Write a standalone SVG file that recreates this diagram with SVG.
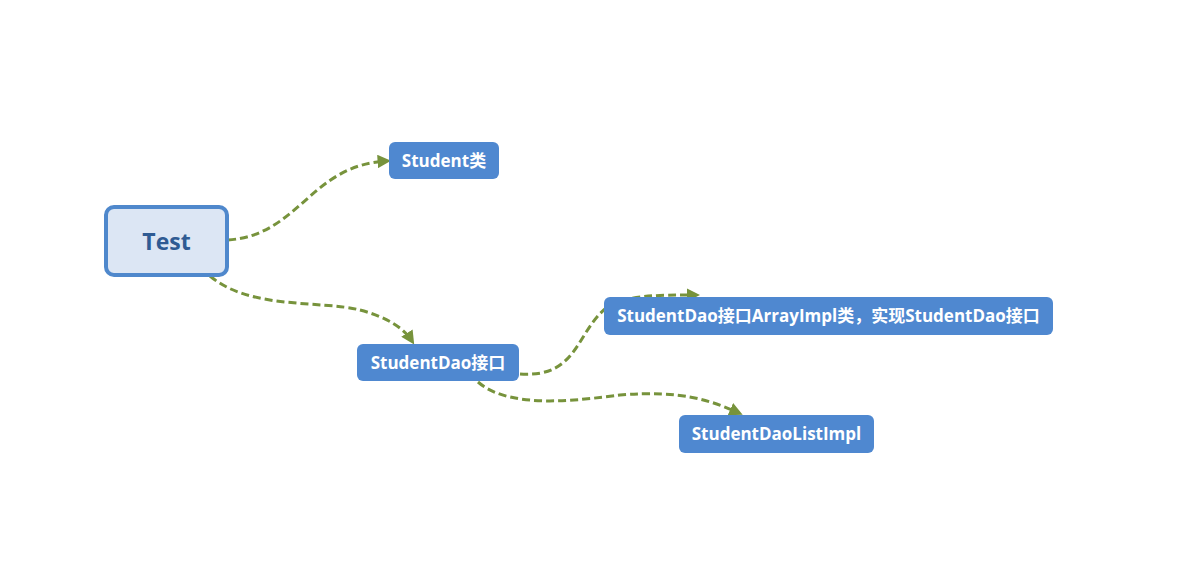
<svg xmlns="http://www.w3.org/2000/svg" width="1185" height="565" viewBox="0 0 1185 565">
<style>
.node{fill:#4f88d0;}
.lbl{font-family:"Open Sans","Noto Sans","Noto Sans CJK SC",sans-serif;font-weight:bold;font-size:17px;fill:#fff;text-anchor:middle;dominant-baseline:central;}
.edge{fill:none;stroke:#77933c;stroke-width:3;stroke-dasharray:8,4;marker-end:url(#arr);}
</style>
<defs>
<marker id="arr" viewBox="0 0 10 10" refX="7" refY="5" markerWidth="4.5" markerHeight="4.5" orient="auto" markerUnits="strokeWidth">
<path d="M0,0 L10,5 L0,10 z" fill="#77933c"/>
</marker>
</defs>
<rect width="1185" height="565" fill="#fff"/>
<g id="connectors">
<path class="edge" d="M228,240 C300,235 310,165 387,161"/>
<path class="edge" d="M210,276 C250,310 320,300 360,310 C390,318 405,330 412,341"/>
<path class="edge" d="M520,374 C580,378 575,330 610,305 C630,295 660,295 696,295"/>
<path class="edge" d="M478,382 C510,410 580,400 620,395 C680,390 710,400 739,413"/>
</g>
<g id="test">
<rect x="106" y="207" width="121" height="68" rx="8" fill="#dce6f4" stroke="#4f88cc" stroke-width="4"/>
<text x="166.5" y="241" font-family="'Open Sans','Noto Sans',sans-serif" font-weight="bold" font-size="23" fill="#2f5b93" text-anchor="middle" dominant-baseline="central">Test</text>
</g>
<g id="student">
<rect class="node" x="389" y="142" width="110" height="37" rx="6"/>
<text class="lbl" x="444" y="160">Student类</text>
</g>
<g id="studentdao">
<rect class="node" x="357" y="344" width="162" height="37" rx="6"/>
<text class="lbl" x="438" y="362">StudentDao接口</text>
</g>
<g id="arrayimpl">
<rect class="node" x="604" y="297" width="449" height="38" rx="6"/>
<text class="lbl" x="828.5" y="315.5">StudentDao接口ArrayImpl类，实现StudentDao接口</text>
</g>
<g id="listimpl">
<rect class="node" x="679" y="415" width="195" height="38" rx="6"/>
<text class="lbl" x="776.5" y="433.5">StudentDaoListImpl</text>
</g>
</svg>
